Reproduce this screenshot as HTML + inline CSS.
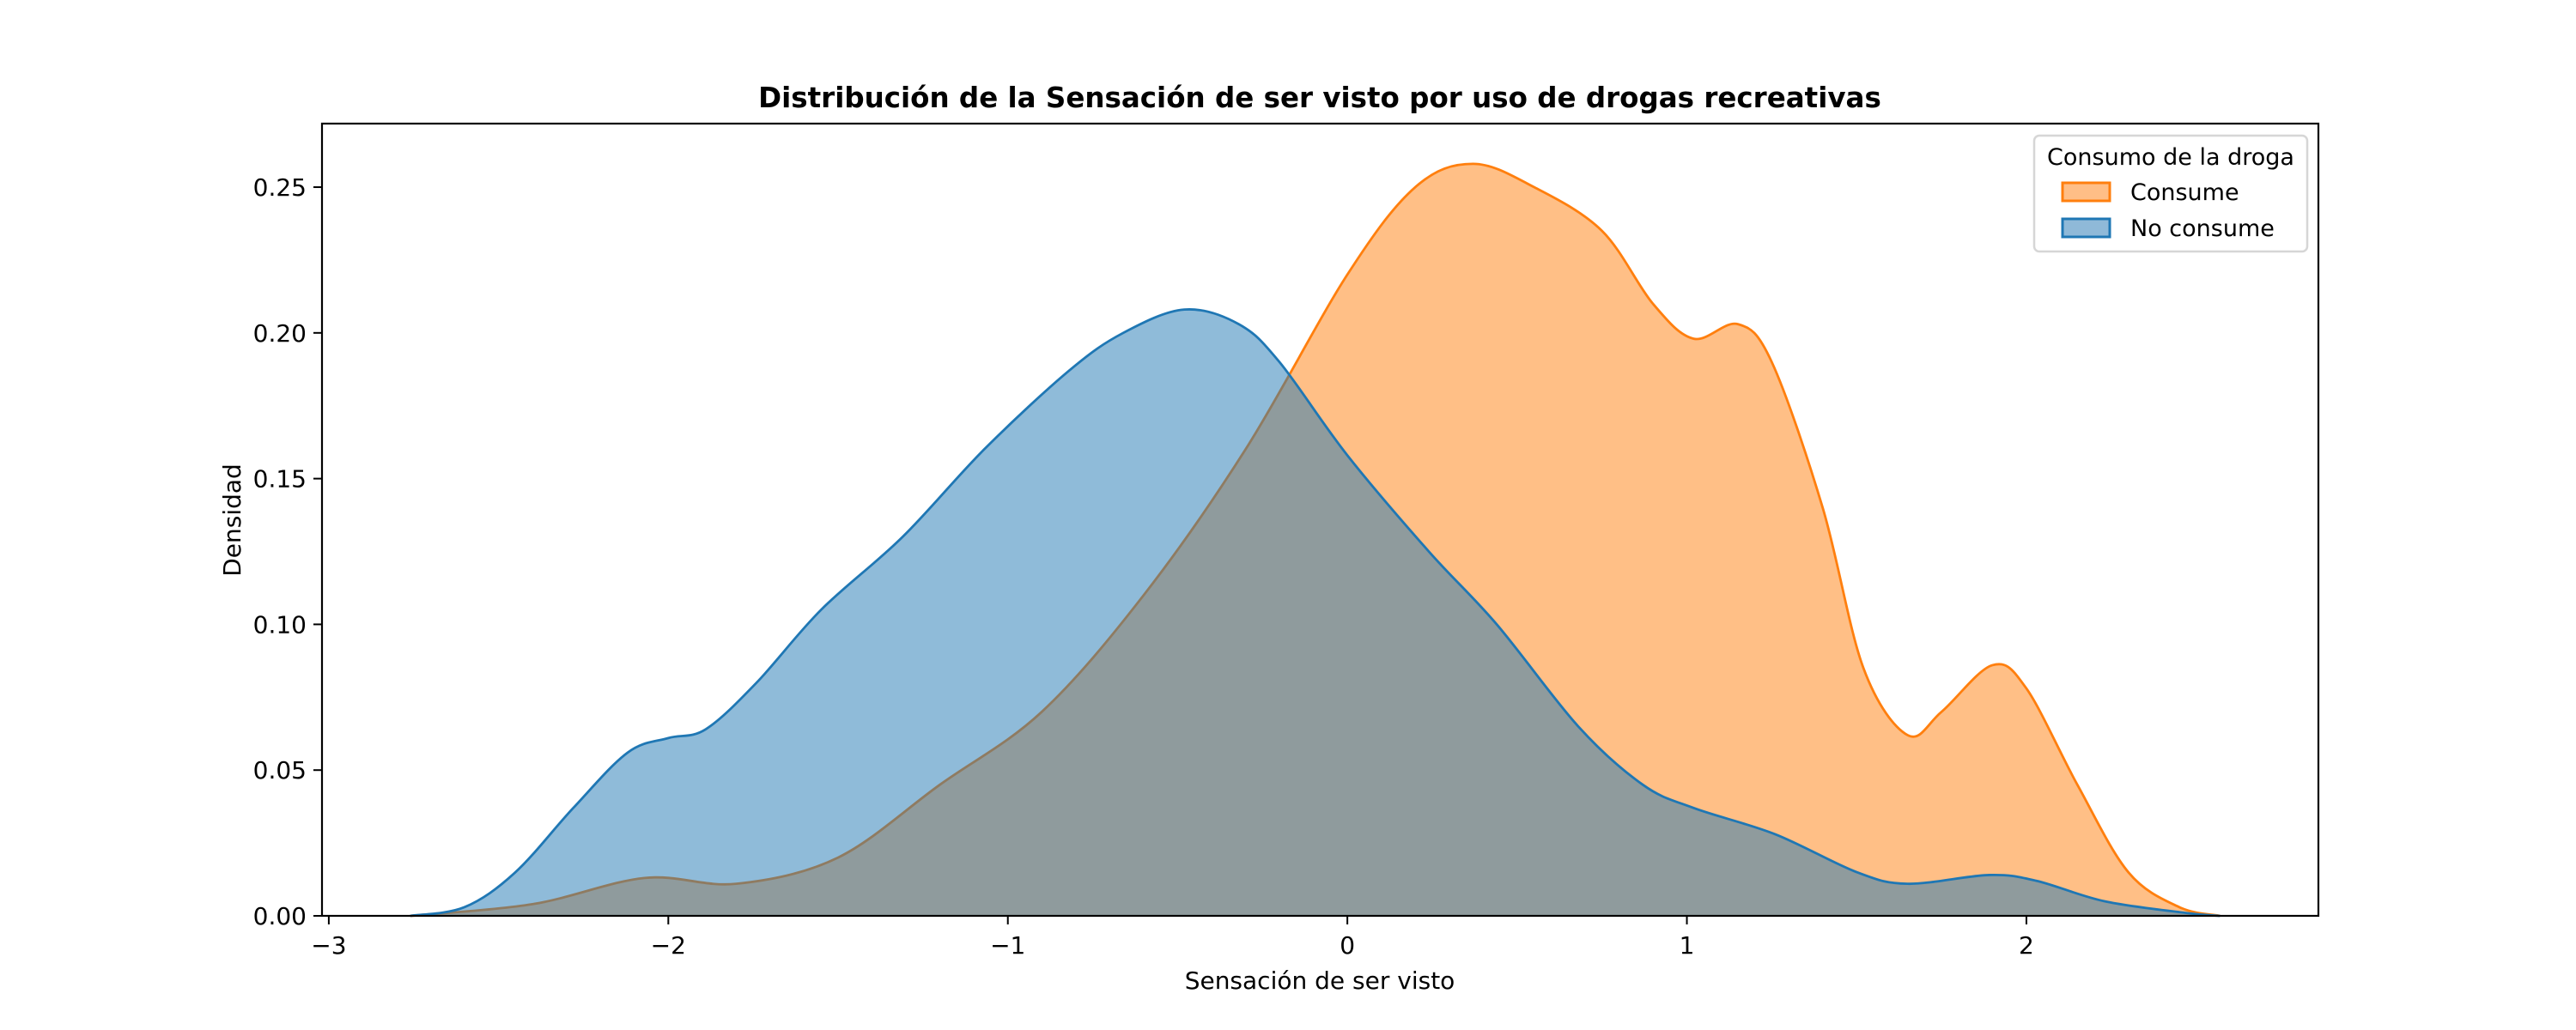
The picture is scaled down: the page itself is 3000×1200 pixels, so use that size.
<!DOCTYPE html>
<html><head><meta charset="utf-8">
<style>
html,body{margin:0;padding:0;background:#fff;}
svg{display:block;font-family:"DejaVu Sans","Liberation Sans",sans-serif;}
</style></head>
<body>
<svg id="chart" width="3000" height="1200" viewBox="0 0 3000 1200" xmlns="http://www.w3.org/2000/svg">
<rect width="3000" height="1200" fill="#fff"/>
<text x="1537" y="125" text-anchor="middle" font-size="32.5" font-weight="bold">Distribución de la Sensación de ser visto por uso de drogas recreativas</text>
<g id="plot"></g>
<g id="axes"></g>
<text x="1537" y="1152" text-anchor="middle" font-size="28">Sensación de ser visto</text>
<text transform="translate(280,606) rotate(-90)" text-anchor="middle" font-size="28">Densidad</text>
<g>
<rect x="2369" y="158" width="318" height="135" rx="6" fill="#fff" fill-opacity="0.8" stroke="#d6d6d6" stroke-width="2.5"/>
<text x="2528" y="192" text-anchor="middle" font-size="27">Consumo de la droga</text>
<rect x="2402" y="213" width="55" height="21" fill="#ffbe86" stroke="#ff7f0e" stroke-width="3"/>
<text x="2481" y="233" font-size="27">Consume</text>
<rect x="2402" y="255" width="55" height="21" fill="#8fb9d8" stroke="#1f77b4" stroke-width="3"/>
<text x="2481" y="275" font-size="27">No consume</text>
</g>
</svg>
<script>
const xTicks = [-3, -2, -1, 0, 1, 2];
const yTicks = [0, 0.05, 0.10, 0.15, 0.20, 0.25];
const yTickLabels = ["0.00","0.05","0.10","0.15","0.20","0.25"];
const noConsumeX = [-2.76,-2.6,-2.45,-2.28,-2.12,-2.0,-1.89,-1.74,-1.55,-1.31,-1.07,-0.82,-0.66,-0.48,-0.32,-0.2,0,0.24,0.44,0.68,0.87,1.02,1.26,1.5,1.65,1.89,2.03,2.23,2.47,2.57];
const noConsumeY = [0,0.003,0.015,0.037,0.056,0.061,0.064,0.08,0.105,0.13,0.16,0.187,0.2,0.208,0.203,0.19,0.158,0.125,0.1,0.065,0.045,0.037,0.028,0.015,0.011,0.014,0.012,0.005,0.001,0];
const consumeX = [-2.76,-2.4,-2.07,-1.8,-1.5,-1.2,-0.9,-0.6,-0.3,0,0.2,0.37,0.55,0.75,0.9,1.02,1.15,1.25,1.4,1.52,1.65,1.75,1.9,2.0,2.15,2.3,2.45,2.57];
const consumeY = [0,0.004,0.013,0.011,0.02,0.045,0.07,0.11,0.16,0.22,0.25,0.258,0.25,0.235,0.21,0.198,0.203,0.19,0.14,0.085,0.062,0.07,0.086,0.078,0.045,0.015,0.003,0];

const L=375,R=2700,T=144,B=1067;
const xMin=-3.02,xMax=2.86,yMin=0,yMax=0.2718;
function sx(v){return L+(v-xMin)/(xMax-xMin)*(R-L);}
function sy(v){return B-(v-yMin)/(yMax-yMin)*(B-T);}
const NS="http://www.w3.org/2000/svg";
function smoothPath(xs,ys){
  const p=xs.map((x,i)=>[sx(x),sy(ys[i])]);
  let d="M"+p[0][0]+","+p[0][1];
  for(let i=0;i<p.length-1;i++){
    const p0=p[Math.max(0,i-1)],p1=p[i],p2=p[i+1],p3=p[Math.min(p.length-1,i+2)];
    const c1=[p1[0]+(p2[0]-p0[0])/6,p1[1]+(p2[1]-p0[1])/6];
    const c2=[p2[0]-(p3[0]-p1[0])/6,p2[1]-(p3[1]-p1[1])/6];
    d+=" C"+c1[0]+","+c1[1]+" "+c2[0]+","+c2[1]+" "+p2[0]+","+p2[1];
  }
  return d;
}
const plot=document.getElementById('plot');
function drawSeries(xs,ys,color,name){
  const line=smoothPath(xs,ys);
  const area=document.createElementNS(NS,'path');
  area.setAttribute('d',line+" L"+sx(xs[xs.length-1])+","+sy(0)+" L"+sx(xs[0])+","+sy(0)+" Z");
  area.setAttribute('fill',color);area.setAttribute('fill-opacity','0.5');
  
  
  plot.appendChild(area);
  const ln=document.createElementNS(NS,'path');
  ln.setAttribute('d',line);ln.setAttribute('fill','none');ln.setAttribute('stroke',color);ln.setAttribute('stroke-width','2.8');
  
  
  plot.appendChild(ln);
}
drawSeries(consumeX,consumeY,'#ff7f0e','consume');
drawSeries(noConsumeX,noConsumeY,'#1f77b4','no-consume');

const axes=document.getElementById('axes');
const frame=document.createElementNS(NS,'rect');
frame.setAttribute('x',L);frame.setAttribute('y',T);frame.setAttribute('width',R-L);frame.setAttribute('height',B-T);
frame.setAttribute('fill','none');frame.setAttribute('stroke','#000');frame.setAttribute('stroke-width','2.2');


axes.appendChild(frame);
xTicks.forEach(v=>{
  const x=sx(v);
  const t=document.createElementNS(NS,'line');
  t.setAttribute('x1',x);t.setAttribute('x2',x);t.setAttribute('y1',B);t.setAttribute('y2',B+10);t.setAttribute('stroke','#000');t.setAttribute('stroke-width','2');
  
  
  axes.appendChild(t);
  const lb=document.createElementNS(NS,'text');
  lb.setAttribute('x',x);lb.setAttribute('y',B+44);lb.setAttribute('text-anchor','middle');lb.setAttribute('font-size','28');
  lb.textContent=(v<0?'\u2212'+(-v):String(v));
  
  
  axes.appendChild(lb);
});
yTicks.forEach((v,i)=>{
  const y=sy(v);
  const t=document.createElementNS(NS,'line');
  t.setAttribute('x1',L-10);t.setAttribute('x2',L);t.setAttribute('y1',y);t.setAttribute('y2',y);t.setAttribute('stroke','#000');t.setAttribute('stroke-width','2');
  
  
  axes.appendChild(t);
  const lb=document.createElementNS(NS,'text');
  lb.setAttribute('x',L-18);lb.setAttribute('y',y+10);lb.setAttribute('text-anchor','end');lb.setAttribute('font-size','28');
  lb.textContent=yTickLabels[i];
  
  
  axes.appendChild(lb);
});
</script>
</body></html>
